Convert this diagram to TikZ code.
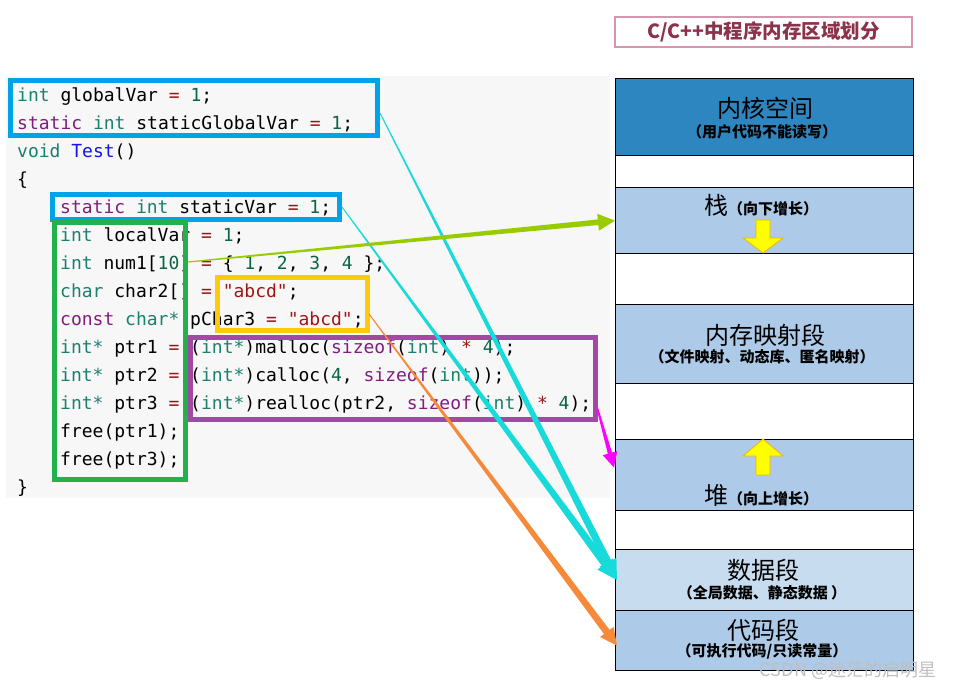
\documentclass[tikz,border=0pt]{standalone}
\usepackage{fontspec}
\setmonofont{DejaVu Sans Mono}
\newfontfamily\cjk{Noto Sans CJK SC}
\usetikzlibrary{calc}
\definecolor{codebg}{RGB}{247,247,247}
\definecolor{kwteal}{RGB}{26,128,110}
\definecolor{kwpurple}{RGB}{128,30,128}
\definecolor{opred}{RGB}{150,20,20}
\definecolor{numgreen}{RGB}{10,100,70}
\definecolor{strred}{RGB}{163,21,21}
\definecolor{fnblue}{RGB}{20,20,230}
\definecolor{boxblue}{RGB}{0,162,232}
\definecolor{boxgreen}{RGB}{34,177,76}
\definecolor{boxyellow}{RGB}{255,201,14}
\definecolor{boxpurple}{RGB}{163,73,164}
\definecolor{kernel}{RGB}{46,134,193}
\definecolor{segfill}{RGB}{173,202,232}
\definecolor{datafill}{RGB}{200,220,240}
\definecolor{arrgreen}{RGB}{153,204,0}
\definecolor{arrcyan}{RGB}{24,218,218}
\definecolor{arrorange}{RGB}{247,138,58}
\definecolor{arrmag}{RGB}{255,0,255}
\definecolor{titlecol}{RGB}{140,50,75}
\definecolor{titlebd}{RGB}{215,150,175}
\definecolor{growyellow}{RGB}{255,255,0}
\definecolor{growedge}{RGB}{240,180,0}
\newcommand\ckw[1]{\textcolor{kwteal}{#1}}
\newcommand\cpu[1]{\textcolor{kwpurple}{#1}}
\newcommand\cop[1]{\textcolor{opred}{#1}}
\newcommand\cnum[1]{\textcolor{numgreen}{#1}}
\newcommand\cstr[1]{\textcolor{strred}{#1}}
\newcommand\cfn[1]{\textcolor{fnblue}{#1}}
% tapered arrow: color, start, tip, start half-width, end half-width, head length, head half-width
\newcommand\taparrow[7]{%
  \coordinate (hb) at ($(#3)!#6!(#2)$);
  \fill[#1] ($(#2)!#4!90:(#3)$) -- ($(hb)!#5!90:(#3)$) -- ($(hb)!#7!90:(#3)$) -- (#3)
    -- ($(hb)!#7!-90:(#3)$) -- ($(hb)!#5!-90:(#3)$) -- ($(#2)!#4!-90:(#3)$) -- cycle;}
\tikzset{
  codeline/.style={anchor=base west, inner sep=0pt, font=\ttfamily\fontsize{18}{18}\selectfont},
  hlbox/.style={draw=#1, line width=5pt, inner sep=0pt},
  segrow/.style={draw=black, line width=1.2pt, fill=#1, minimum width=298pt, inner sep=0pt, anchor=north west},
  bigtxt/.style={inner sep=0pt, font=\cjk\fontsize{24}{24}\selectfont},
  smalltxt/.style={inner sep=0pt, font=\cjk\bfseries\fontsize{15}{15}\selectfont},
}
\begin{document}
\begin{tikzpicture}[x=1pt,y=-1pt]
\useasboundingbox (0,0) rectangle (959,688);
\fill[white] (0,0) rectangle (959,688);
% code background
\fill[codebg] (6,76) rectangle (610,498);
% code lines
\node[codeline] (l1) at (17,101) {\ckw{int} globalVar \cop{=} \cnum{1};};
\node[codeline] (l2) at (17,129) {\cpu{static} \ckw{int} staticGlobalVar \cop{=} \cnum{1};};
\node[codeline] (l3) at (17,157) {\ckw{void} \cfn{Test}()};
\node[codeline] (l4) at (17,185) {\{};
\node[codeline] (l5) at (60,213) {\cpu{static} \ckw{int} staticVar \cop{=} \cnum{1};};
\node[codeline] (l6) at (60,241) {\ckw{int} localVar \cop{=} \cnum{1};};
\node[codeline] (l7) at (60,269) {\ckw{int} num1[\cnum{10}] \cop{=} \{ \cnum{1}, \cnum{2}, \cnum{3}, \cnum{4} \};};
\node[codeline] (l8) at (60,297) {\ckw{char} char2[] \cop{=} \cstr{"abcd"};};
\node[codeline] (l9) at (60,325) {\cpu{const} \ckw{char*} pChar3 \cop{=} \cstr{"abcd"};};
\node[codeline] (l10) at (60,353) {\ckw{int*} ptr1 \cop{=} (\ckw{int*})malloc(\cpu{sizeof}(\ckw{int}) \cop{*} \cnum{4});};
\node[codeline] (l11) at (60,381) {\ckw{int*} ptr2 \cop{=} (\ckw{int*})calloc(\cnum{4}, \cpu{sizeof}(\ckw{int}));};
\node[codeline] (l12) at (60,409) {\ckw{int*} ptr3 \cop{=} (\ckw{int*})realloc(ptr2, \cpu{sizeof}(\ckw{int}) \cop{*} \cnum{4});};
\node[codeline] (l13) at (60,437) {free(ptr1);};
\node[codeline] (l14) at (60,465) {free(ptr3);};
\node[codeline] (l15) at (17,493) {\}};
% highlight boxes
\node[hlbox=boxblue, minimum width=367pt, minimum height=55.5pt] (gbox) at (194,108) {};
\node[hlbox=boxblue, minimum width=287pt, minimum height=25pt] (sbox) at (196,207) {};
\node[hlbox=boxgreen, minimum width=131pt, minimum height=257pt] (lbox) at (120,351) {};
\node[hlbox=boxyellow, minimum width=150pt, minimum height=53pt] (ybox) at (292.5,304) {};
\node[hlbox=boxpurple, minimum width=405pt, minimum height=82pt] (pbox) at (393,378.5) {};
% title
\node[draw=titlebd, line width=1.2pt, minimum width=297pt, minimum height=30pt, inner sep=0pt,
      text=titlecol, font=\cjk\bfseries\fontsize{19.5}{19.5}\selectfont] (title) at (763.5,32) {C/C++中程序内存区域划分};
% memory column
\node[segrow=kernel, minimum height=77pt] (kern) at (615,78) {};
\node[segrow=white, minimum height=32pt] (w1) at (615,155) {};
\node[segrow=segfill, minimum height=66pt] (stack) at (615,187) {};
\node[segrow=white, minimum height=51pt] (w2) at (615,253) {};
\node[segrow=segfill, minimum height=79pt] (mmap) at (615,304) {};
\node[segrow=white, minimum height=56pt] (w3) at (615,383) {};
\node[segrow=segfill, minimum height=71pt] (heap) at (615,439) {};
\node[segrow=white, minimum height=39pt] (w4) at (615,510) {};
\node[segrow=datafill, minimum height=61pt] (data) at (615,549) {};
\node[segrow=segfill, minimum height=60pt] (code) at (615,610) {};
% texts
\node[bigtxt] (tk) at (765,108) {内核空间};
\node[smalltxt] (tks) at (762,132) {（用户代码不能读写）};
\node[inner sep=0pt] (ts) at (761,205) {{\cjk\fontsize{24}{24}\selectfont 栈}{\cjk\bfseries\fontsize{15}{15}\selectfont （向下增长）}};
\node[bigtxt] (tm) at (765,335) {内存映射段};
\node[smalltxt] (tms) at (762,357) {（文件映射、动态库、匿名映射）};
\node[inner sep=0pt] (th) at (761,495) {{\cjk\fontsize{24}{24}\selectfont 堆}{\cjk\bfseries\fontsize{15}{15}\selectfont （向上增长）}};
\node[bigtxt] (td) at (763,570) {数据段};
\node[smalltxt] (tds) at (762,593) {（全局数据、静态数据 ）};
\node[bigtxt] (tc) at (763,630) {代码段};
\node[smalltxt] (tcs) at (762,651) {（可执行代码/只读常量）};
% growth arrows
\filldraw[fill=growyellow, draw=growedge, line width=0.8pt]
  (756,220) -- (770,220) -- (770,238) -- (783,238) -- (763,253) -- (743,238) -- (756,238) -- cycle;
\filldraw[fill=growyellow, draw=growedge, line width=0.8pt]
  (763,439) -- (783,456) -- (770,456) -- (770,475) -- (756,475) -- (756,456) -- (743,456) -- cycle;
% connectors
\coordinate (gA) at (188,262);
\coordinate (c1A) at ([yshift=-5pt]gbox.east);
\coordinate (c2A) at (sbox.east);
\coordinate (oA) at (369,314);
\coordinate (mA) at (597,407);
\coordinate (dtip) at ([xshift=2pt]data.west);
\coordinate (ctip) at ([xshift=2pt,yshift=-5pt]code.west);
\coordinate (htip) at ([xshift=-1pt,yshift=7.5pt]heap.west);
\taparrow{arrmag}{mA}{htip}{0.8pt}{2.2pt}{15pt}{7.5pt}
\taparrow{arrorange}{oA}{ctip}{0.5pt}{3.5pt}{17pt}{8.5pt}
\taparrow{arrcyan}{c1A}{dtip}{0.5pt}{3.8pt}{20pt}{9.5pt}
\taparrow{arrcyan}{c2A}{dtip}{0.5pt}{3.8pt}{20pt}{9.5pt}
\taparrow{arrgreen}{gA}{stack.west}{0.6pt}{2.8pt}{17pt}{8.5pt}
% watermark
\node[inner sep=0pt, text=black!25, font=\cjk\fontsize{18}{18}\selectfont] (wm) at (848,670) {CSDN @迷茫的启明星};
\end{tikzpicture}
\end{document}
